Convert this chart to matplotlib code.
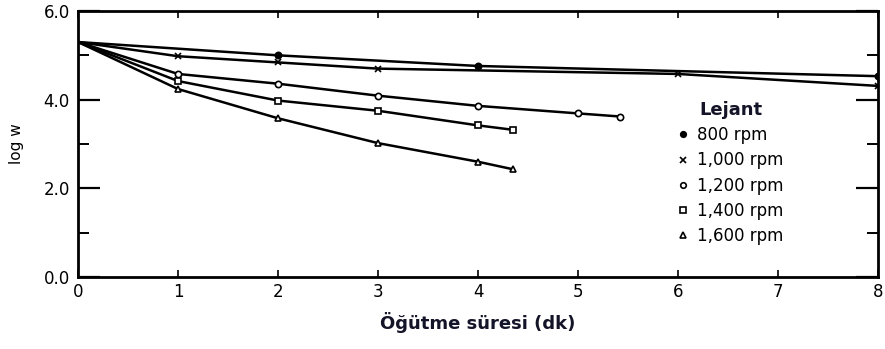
import matplotlib
matplotlib.use("Agg")
import matplotlib.pyplot as plt
from matplotlib.lines import Line2D

# ---- data ----
x_800 = [0, 2, 4, 8]
y_800 = [5.30, 5.00, 4.76, 4.53]

x_1000 = [0, 1, 2, 3, 6, 8]
y_1000 = [5.30, 4.98, 4.84, 4.70, 4.58, 4.31]

x_1200 = [0, 1, 2, 3, 4, 5, 5.42]
y_1200 = [5.30, 4.58, 4.36, 4.09, 3.86, 3.69, 3.62]

x_1400 = [0, 1, 2, 3, 4, 4.35]
y_1400 = [5.30, 4.42, 3.98, 3.75, 3.42, 3.32]

x_1600 = [0, 1, 2, 3, 4, 4.35]
y_1600 = [5.30, 4.24, 3.58, 3.02, 2.60, 2.43]

labels = ["800 rpm", "1,000 rpm", "1,200 rpm", "1,400 rpm", "1,600 rpm"]
markers = ["o", "x", "o", "s", "^"]
fills = ["black", "black", "white", "white", "white"]

x_ticks = [0, 1, 2, 3, 4, 5, 6, 7, 8]
y_ticks = [0, 2, 4, 6]
y_ticklabels = ["0.0", "2.0", "4.0", "6.0"]

xlabel = "Öğütme süresi (dk)"
ylabel = "log w"
legend_title = "Lejant"

# ---- figure ----
fig = plt.figure(figsize=(8.85, 3.49), dpi=100)
ax = fig.add_axes([78/885, 1-277/349, 800/885, 266/349])

series = [(x_800, y_800), (x_1000, y_1000), (x_1200, y_1200),
          (x_1400, y_1400), (x_1600, y_1600)]
for (xs, ys), m, fc in zip(series, markers, fills):
    ax.plot(xs, ys, color="black", lw=1.8, zorder=2)
    ax.plot(xs[1:], ys[1:], ls="none", marker=m, ms=4.5, mfc=fc,
            mec="black", mew=1.2, zorder=3)

ax.set_xlim(0, 8)
ax.set_ylim(0, 5.94)
ax.set_xticks(x_ticks)
ax.set_xticklabels([str(t) for t in x_ticks])
ax.set_yticks(y_ticks)
ax.set_yticklabels(y_ticklabels)
ax.set_yticks([1, 3, 5], minor=True)

for s in ax.spines.values():
    s.set_linewidth(2.0)
    s.set_color("black")

ax.tick_params(axis="y", which="major", direction="in", length=16, width=1.6,
               labelsize=12, pad=6, right=True)
ax.tick_params(axis="y", which="minor", direction="in", length=8, width=1.4,
               right=True)
ax.tick_params(axis="x", which="major", direction="in", length=5, width=1.2,
               labelsize=12, pad=4, top=True)

ax.set_xlabel(xlabel, fontsize=13, fontweight="bold", color="#141428",
              labelpad=8, x=0.5)
ax.set_ylabel(ylabel, fontsize=11, labelpad=14)

# legend built from the series styles
handles = [Line2D([], [], ls="none", marker=m, ms=4, mfc=fc, mec="black", mew=1.2)
           for m, fc in zip(markers, fills)]
leg = ax.legend(handles, labels, title=legend_title, loc="center left",
                bbox_to_anchor=(0.736, 0.391), frameon=False, fontsize=12,
                handlelength=0.6, handletextpad=0.5, labelspacing=0.43,
                borderpad=0.2)
leg.get_title().set_fontweight("bold")
leg.get_title().set_fontsize(13)
leg.get_title().set_color("#141428")

fig.savefig("out.png", dpi=100)
